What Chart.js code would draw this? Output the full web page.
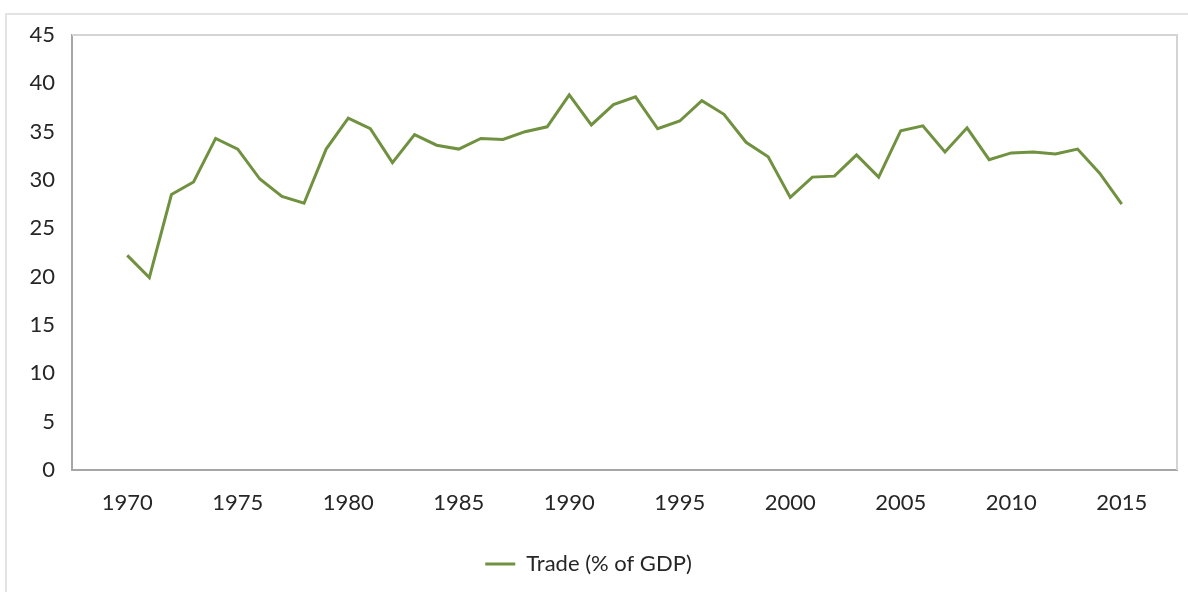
<!DOCTYPE html>
<html>
<head>
<meta charset="utf-8">
<script src="https://cdn.jsdelivr.net/npm/chart.js@4.4.0/dist/chart.umd.min.js"></script>
<style>
  body { margin: 0; background: #fff; }
  #wrap { position: relative; width: 1188px; height: 592px; }
  #frame { position: absolute; left: 5px; top: 13px; right: -2px; bottom: -2px;
           border-top: 2px solid #e3e3e3; border-left: 2px solid #e3e3e3; }
  canvas { position: absolute; left: 0; top: 0; }
</style>
</head>
<body>
<div id="wrap">
  <div id="frame"></div>
  <canvas id="myChart" width="1188" height="592"></canvas>
</div>
<script>
// years and values
var years = [1970,1971,1972,1973,1974,1975,1976,1977,1978,1979,
             1980,1981,1982,1983,1984,1985,1986,1987,1988,1989,
             1990,1991,1992,1993,1994,1995,1996,1997,1998,1999,
             2000,2001,2002,2003,2004,2005,2006,2007,2008,2009,
             2010,2011,2012,2013,2014,2015];
var trade = [22.2,19.9,28.5,29.8,34.3,33.2,30.1,28.3,27.6,33.2,
             36.4,35.3,31.8,34.7,33.6,33.2,34.3,34.2,35.0,35.5,
             38.8,35.7,37.8,38.6,35.3,36.1,38.2,36.8,33.9,32.4,
             28.2,30.3,30.4,32.6,30.3,35.1,35.6,32.9,35.4,32.1,
             32.8,32.9,32.7,33.2,30.7,27.5];
var xTicks = [1970,1975,1980,1985,1990,1995,2000,2005,2010,2015];
var seriesName = 'Trade (% of GDP)';

var points = [];
for (var i in years) {
  points.push({x: years[i], y: trade[i]});
}

// light top/right edge of the plot area
var plotFrame = {
  id: 'plotFrame',
  beforeDatasetsDraw: function(chart) {
    var a = chart.chartArea, c = chart.ctx;
    c.save();
    c.strokeStyle = '#d4d4d4';
    c.lineWidth = 2;
    c.beginPath();
    c.moveTo(a.left, a.top);
    c.lineTo(a.right, a.top);
    c.lineTo(a.right, a.bottom);
    c.stroke();
    c.restore();
  }
};

Chart.defaults.font.family = 'Lato, "Liberation Sans", sans-serif';

var ctx = document.getElementById('myChart').getContext('2d');
var chart = new Chart(ctx, {
  type: 'line',
  data: {
    datasets: [{
      label: seriesName,
      data: points,
      borderColor: '#70913f',
      backgroundColor: '#70913f',
      borderWidth: 3,
      pointRadius: 0,
      tension: 0
    }]
  },
  options: {
    responsive: false,
    animation: false,
    layout: { padding: { top: 35, right: 11, bottom: 7, left: 0 } },
    scales: {
      x: {
        type: 'linear',
        min: 1967.5,
        max: 2017.5,
        afterBuildTicks: function(axis) {
          axis.ticks = xTicks.map(function(v) { return {value: v}; });
        },
        afterFit: function(axis) { axis.height = 71; },
        grid: { display: false },
        border: { color: '#a6a6a6', width: 2 },
        ticks: {
          color: '#262626',
          font: { size: 22 },
          padding: 12,
          maxRotation: 0,
          callback: function(v) { return String(v); }
        }
      },
      y: {
        min: 0,
        max: 45,
        afterFit: function(axis) { axis.width = 72; },
        grid: { display: false },
        border: { color: '#a6a6a6', width: 2 },
        ticks: { stepSize: 5, color: '#262626', font: { size: 22 }, padding: 9 }
      }
    },
    plugins: {
      legend: {
        position: 'bottom',
        labels: {
          color: '#262626',
          font: { size: 22 },
          usePointStyle: true,
          pointStyle: 'line',
          pointStyleWidth: 30,
          padding: 12
        }
      },
      tooltip: { enabled: false }
    }
  },
  plugins: [plotFrame]
});
</script>
</body>
</html>
